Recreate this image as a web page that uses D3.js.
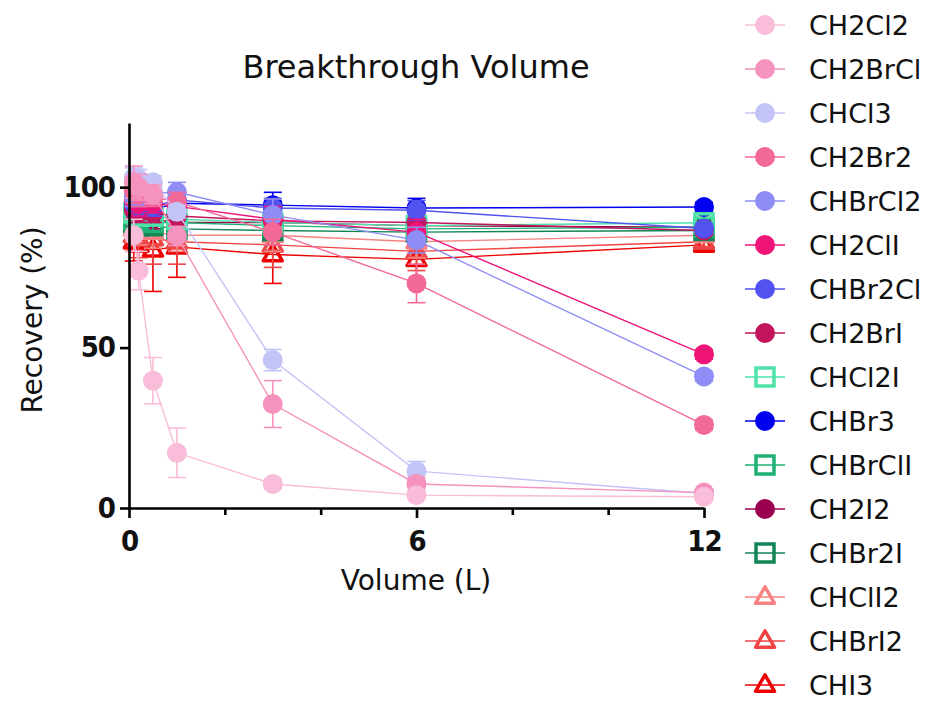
<!DOCTYPE html>
<html>
<head>
<meta charset="utf-8">
<script src="https://cdn.jsdelivr.net/npm/d3@7"></script>
<style>
  html, body { margin: 0; padding: 0; background: #fff; }
  svg { display: block; }
  text { font-family: "DejaVu Sans", sans-serif; fill: #111; }
</style>
</head>
<body>
<svg id="chart" width="928" height="704"></svg>
<script>
// ---------- data ----------
const volumeL = [0.1, 0.2, 0.5, 1, 3, 6, 12];
const xTicksMajor = [0, 6, 12];
const xTicksMinor = [2, 4, 8, 10];
const yTicks = [0, 50, 100];

const seriesNames = ["CH2Cl2", "CH2BrCl", "CHCl3", "CH2Br2", "CHBrCl2", "CH2ClI", "CHBr2Cl", "CH2BrI",
  "CHCl2I", "CHBr3", "CHBrClI", "CH2I2", "CHBr2I", "CHClI2", "CHBrI2", "CHI3"];

const rCH2Cl2  = [85, 74, 39.7, 17.2, 7.5, 4.0, 3.5];
const rCH2BrCl = [101.6, 100, 97.8, 84.8, 32.4, 7.5, 4.8];
const rCHCl3   = [103, 102.5, 101.5, 92.3, 46.1, 11.5, 4.5];
const rCH2Br2  = [99, 98, 97, 95.4, 86, 70, 25.9];
const rCHBrCl2 = [97, 97, 98, 98.5, 91.3, 83.5, 41];
const rCH2ClI  = [96, 95, 95, 94, 90, 86, 47.9];
const rCHBr2Cl = [95, 94, 94, 96, 93.5, 92.8, 87.1];
const rCH2BrI  = [93, 92, 92, 91, 89.5, 89, 86.5];
const rCHCl2I  = [92, 91, 91, 90, 89, 88, 88.9];
const rCHBr3   = [94, 93, 93, 95, 94.4, 93.5, 93.8];
const rCHBrClI = [90, 90, 89, 89, 88, 87, 87.5];
const rCH2I2   = [91, 90, 90, 89, 89, 88, 87.5];
const rCHBr2I  = [89, 88, 88, 87, 86.5, 86, 86.5];
const rCHClI2  = [87, 86, 86, 85, 85, 83, 85];
const rCHBrI2  = [85, 84, 84, 83, 82, 80, 83];
const rCHI3    = [83, 82, 80.5, 81.4, 79, 77.5, 82];

const eCH2Cl2  = [5, 6, 7.2, 7.7, 1.5, 1, 1];
const eCH2BrCl = [5, 4, 3, 3, 7.3, 2, 1];
const eCHCl3   = [3, 3, 2, 2, 3.3, 3, 1];
const eCH2Br2  = [4, 4, 3, 3, 4, 6, 1.5];
const eCHBrCl2 = [3, 3, 3, 3, 5, 4, 1.5];
const eCH2ClI  = [4, 4, 3, 3, 4, 4, 1.5];
const eCHBr2Cl = [3, 3, 3, 3, 3, 3, 1.5];
const eCH2BrI  = [3, 3, 3, 3, 3, 3, 1.5];
const eCHCl2I  = [3, 3, 3, 3, 3, 3, 1.5];
const eCHBr3   = [3, 3, 3, 3, 4, 3, 1.5];
const eCHBrClI = [3, 3, 3, 3, 3, 3, 1.5];
const eCH2I2   = [3, 3, 3, 3, 3, 3, 1.5];
const eCHBr2I  = [3, 3, 3, 3, 3, 3, 1.5];
const eCHClI2  = [4, 4, 5, 5, 5, 5, 1.5];
const eCHBrI2  = [5, 6, 8, 7, 7, 6, 1.5];
const eCHI3    = [6, 8, 13, 9.5, 9, 7, 1.5];

const seriesValues = [rCH2Cl2, rCH2BrCl, rCHCl3, rCH2Br2, rCHBrCl2, rCH2ClI, rCHBr2Cl, rCH2BrI,
  rCHCl2I, rCHBr3, rCHBrClI, rCH2I2, rCHBr2I, rCHClI2, rCHBrI2, rCHI3];
const seriesErrors = [eCH2Cl2, eCH2BrCl, eCHCl3, eCH2Br2, eCHBrCl2, eCH2ClI, eCHBr2Cl, eCH2BrI,
  eCHCl2I, eCHBr3, eCHBrClI, eCH2I2, eCHBr2I, eCHClI2, eCHBrI2, eCHI3];

// ---------- style ----------
const seriesColors = ["#f9bcd9", "#f592be", "#c3c3f8", "#f26896", "#8d8df5", "#ee1478", "#5252f0", "#c3145e",
  "#4de3a8", "#0000ee", "#1fb173", "#9a0050", "#128556", "#f58383", "#ef4545", "#ee0000"];
const seriesShapes = ["circle", "circle", "circle", "circle", "circle", "circle", "circle", "circle",
  "square", "circle", "square", "circle", "square", "triangle", "triangle", "triangle"];

const svg = d3.select("#chart");
const x = d3.scaleLinear().domain([0, 12]).range([129, 704]);
const y = d3.scaleLinear().domain([0, 120]).range([508, 123]);

function drawMarker(g, shape, color, cx, cy) {
  if (shape === "circle") {
    g.append("circle").attr("cx", cx).attr("cy", cy).attr("r", 10).attr("fill", color);
  } else if (shape === "square") {
    const s = 18;
    g.append("rect").attr("x", cx - s / 2).attr("y", cy - s / 2).attr("width", s).attr("height", s)
      .attr("fill", "none").attr("stroke", color).attr("stroke-width", 3.5);
  } else {
    const s = 19, h = s * Math.sqrt(3) / 2;
    g.append("path")
      .attr("d", `M${cx},${cy - h * 0.62}L${cx + s / 2},${cy + h * 0.38}L${cx - s / 2},${cy + h * 0.38}Z`)
      .attr("fill", "none").attr("stroke", color).attr("stroke-width", 3.5).attr("stroke-linejoin", "round");
  }
}

// ---------- series (first series on top) ----------
const plot = svg.append("g");
for (let i = seriesNames.length - 1; i >= 0; i--) {
  const vals = seriesValues[i], errs = seriesErrors[i], col = seriesColors[i];
  const g = plot.append("g");
  const pts = volumeL.map((v, k) => [v, vals[k], errs[k]]);
  pts.forEach(p => {
    const px = x(p[0]);
    g.append("line").attr("x1", px).attr("x2", px).attr("y1", y(p[1] - p[2])).attr("y2", y(p[1] + p[2]))
      .attr("stroke", col).attr("stroke-width", 1.6);
    [p[1] - p[2], p[1] + p[2]].forEach(v => {
      g.append("line").attr("x1", px - 9).attr("x2", px + 9).attr("y1", y(v)).attr("y2", y(v))
        .attr("stroke", col).attr("stroke-width", 1.6);
    });
  });
  g.append("path").datum(pts)
    .attr("d", d3.line().x(p => x(p[0])).y(p => y(p[1])))
    .attr("fill", "none").attr("stroke", col).attr("stroke-width", 1.4);
  pts.forEach(p => drawMarker(g, seriesShapes[i], col, x(p[0]), y(p[1])));
}

// ---------- axes ----------
const axisG = svg.append("g");
axisG.append("g").attr("transform", "translate(129,0)")
  .call(d3.axisLeft(y).tickValues(yTicks).tickSize(9).tickSizeOuter(0).tickPadding(5).tickFormat(d3.format("d")));
axisG.append("g").attr("transform", "translate(0,508)")
  .call(d3.axisBottom(x).tickValues(xTicksMajor).tickSize(10).tickSizeOuter(0).tickPadding(12).tickFormat(d3.format("d")));
axisG.append("g").attr("transform", "translate(0,508)")
  .call(d3.axisBottom(x).tickValues(xTicksMinor).tickSize(7).tickSizeOuter(0).tickFormat(""))
  .select(".domain").remove();
axisG.selectAll(".domain, .tick line").attr("stroke", "#000").attr("stroke-width", 2.6);
axisG.selectAll(".tick text")
  .style("font-family", "'DejaVu Sans Condensed', 'DejaVu Sans', sans-serif")
  .style("font-stretch", "condensed")
  .style("letter-spacing", "-1px")
  .style("font-weight", "bold").style("font-size", "29px").attr("fill", "#000");

// ---------- titles ----------
svg.append("text").attr("x", 416).attr("y", 67).attr("text-anchor", "middle")
  .attr("dominant-baseline", "central").style("font-size", "32px").text("Breakthrough Volume");
svg.append("text").attr("x", 416).attr("y", 580).attr("text-anchor", "middle")
  .attr("dominant-baseline", "central").style("font-size", "28px").text("Volume (L)");
svg.append("text").attr("transform", "translate(32,320) rotate(-90)").attr("text-anchor", "middle")
  .attr("dominant-baseline", "central").style("font-size", "28px").text("Recovery (%)");

// ---------- legend ----------
const leg = svg.append("g");
seriesNames.forEach((name, i) => {
  const ly = 25 + i * 44;
  const g = leg.append("g");
  g.append("line").attr("x1", 745).attr("x2", 785).attr("y1", ly).attr("y2", ly)
    .attr("stroke", seriesColors[i]).attr("stroke-width", 1.6);
  drawMarker(g, seriesShapes[i], seriesColors[i], 765, ly);
  g.append("text").attr("x", 809).attr("y", ly).attr("dominant-baseline", "central")
    .style("font-size", "27px").text(name);
});
</script>
</body>
</html>
